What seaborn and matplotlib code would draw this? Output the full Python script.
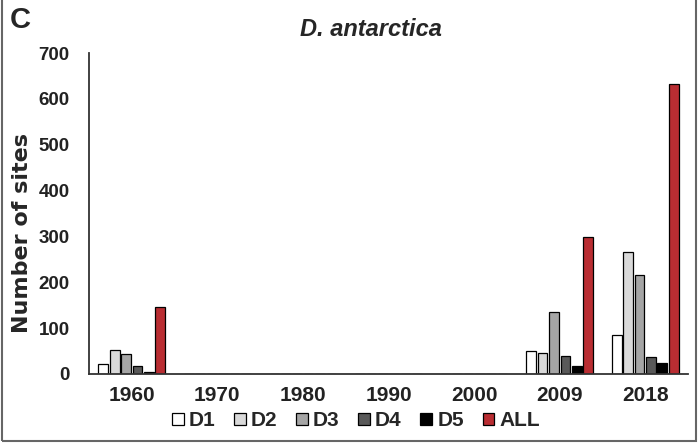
import pandas as pd
import numpy as np
import matplotlib.pyplot as plt
import seaborn as sns
from matplotlib.patches import Rectangle

years = ["1960", "1970", "1980", "1990", "2000", "2009", "2018"]
series = ["D1", "D2", "D3", "D4", "D5", "ALL"]
d1 = [22, 0, 0, 0, 0, 50, 85]
d2 = [52, 0, 0, 0, 0, 46, 266]
d3 = [44, 0, 0, 0, 0, 135, 216]
d4 = [17, 0, 0, 0, 0, 39, 37]
d5 = [5, 0, 0, 0, 0, 17, 24]
all_sites = [146, 0, 0, 0, 0, 298, 632]
colors = ["#ffffff", "#d9d9d9", "#a5a5a5", "#595959", "#000000", "#d0161c"]

rows = []
for name, vals in zip(series, [d1, d2, d3, d4, d5, all_sites]):
    for yr, v in zip(years, vals):
        rows.append({"year": yr, "series": name, "sites": v})
df = pd.DataFrame(rows)

sns.set_style("white")
plt.rcParams["font.family"] = ["Liberation Sans", "DejaVu Sans"]
plt.rcParams["font.weight"] = "bold"

fig = plt.figure(figsize=(6.98, 4.44), dpi=100)
ax = fig.add_axes([0.1275, 0.1577, 0.8582, 0.7229])

sns.barplot(data=df, x="year", y="sites", hue="series", order=years,
            hue_order=series, palette=colors, width=0.8, gap=0.15,
            edgecolor="black", linewidth=0.9, errorbar=None, ax=ax)

ax.set_ylim(0, 700)
ax.set_yticks(range(0, 701, 100))
ax.set_xlabel("")
ax.set_ylabel("Number of sites", fontsize=16, fontweight="bold",
              family="DejaVu Sans")
ax.yaxis.set_label_coords(-0.095, 0.44)
ax.tick_params(axis="x", labelsize=15, length=0, pad=9)
ax.tick_params(axis="y", labelsize=13.5, length=0, pad=14)
for lab in ax.get_xticklabels() + ax.get_yticklabels():
    lab.set_fontweight("bold")
    lab.set_color("#222222")

sns.despine(ax=ax)
for s in ["left", "bottom"]:
    ax.spines[s].set_color("#333333")
    ax.spines[s].set_linewidth(1.3)

ax.set_title("D. antarctica", fontsize=17, fontweight="bold",
             style="italic", x=0.47, pad=12)
fig.text(0.014, 0.955, "C", fontsize=21, fontweight="bold", va="center")

ax.legend(loc="center", bbox_to_anchor=(0.51, 0.052),
          bbox_transform=fig.transFigure, ncol=6, frameon=False,
          prop={"size": 15, "weight": "bold"}, handlelength=0.55,
          handleheight=0.55, handletextpad=0.25, columnspacing=0.9,
          borderaxespad=0)

fig.patches.append(Rectangle((0.003, 0.006), 0.994, 1.2,
                             transform=fig.transFigure, fill=False,
                             edgecolor="#666666", linewidth=1.5))

fig.savefig("out.png", dpi=100)
